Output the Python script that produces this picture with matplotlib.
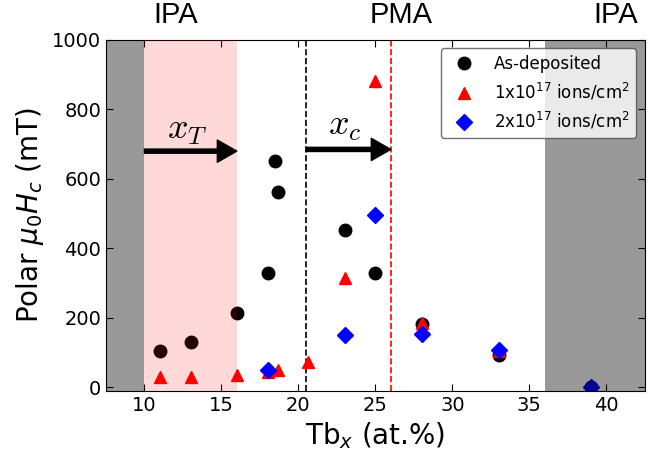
import numpy as np
import matplotlib.pyplot as plt

# As-deposited
x_dep = [11, 13, 16, 18, 18.5, 18.7, 23, 25, 28, 33, 39]
y_dep = [105, 132, 215, 330, 652, 562, 452, 330, 183, 92, 0]

# 1x10^17 ions/cm2
x_1e17 = [11, 13, 16, 18, 18.7, 20.6, 23, 25, 28, 33, 39]
y_1e17 = [30, 30, 36, 45, 50, 72, 316, 882, 186, 105, 0]

# 2x10^17 ions/cm2
x_2e17 = [18, 23, 25, 28, 33, 39]
y_2e17 = [50, 152, 497, 153, 108, 0]

region_labels = ['IPA', 'PMA', 'IPA']
region_label_x = [12.0, 26.7, 40.6]

fig = plt.figure(figsize=(6.62, 4.54), dpi=100)
ax = fig.add_axes([0.160, 0.139, 0.814, 0.773])

ax.plot(x_dep, y_dep, 'o', color='k', markersize=9, label='As-deposited', zorder=2)
ax.plot(x_1e17, y_1e17, '^', color='r', markersize=9,
        label=r'1x10$^{17}$ ions/cm$^2$', zorder=2)
ax.plot(x_2e17, y_2e17, 'D', color='b', markersize=8,
        label=r'2x10$^{17}$ ions/cm$^2$', zorder=2)

# shaded regions, drawn over the markers
ax.axvspan(7.5, 10, color='k', alpha=0.4, lw=0, zorder=3)
ax.axvspan(36, 42.5, color='k', alpha=0.4, lw=0, zorder=3)
ax.axvspan(10, 16, color='r', alpha=0.15, lw=0, zorder=3)

ax.axvline(20.5, color='k', ls='--', lw=1.2, zorder=1)
ax.axvline(26, color='r', ls='--', lw=1.2, zorder=1)

# arrows
ax.annotate('', xy=(16, 680), xytext=(10, 680),
            arrowprops=dict(facecolor='k', edgecolor='k', width=3, headwidth=16, headlength=14),
            zorder=4)
ax.annotate('', xy=(26, 685), xytext=(20.5, 685),
            arrowprops=dict(facecolor='k', edgecolor='k', width=3, headwidth=16, headlength=14),
            zorder=4)
ax.text(12.8, 740, r'$x_T$', fontsize=26, ha='center', va='center', zorder=4,
        math_fontfamily='cm')
ax.text(23.0, 752, r'$x_c$', fontsize=26, ha='center', va='center', zorder=4,
        math_fontfamily='cm')

for lab, xl in zip(region_labels, region_label_x):
    ax.text(xl, 1072, lab, fontsize=21, ha='center', va='center',
            family=['Liberation Sans Narrow', 'Liberation Sans', 'DejaVu Sans'])

ax.set_xlim(7.5, 42.5)
ax.set_ylim(-10, 1000)
ax.set_xticks([10, 15, 20, 25, 30, 35, 40])
ax.set_yticks([0, 200, 400, 600, 800, 1000])
ax.tick_params(direction='in', top=True, right=True, labelsize=14, length=5)
ax.set_xlabel(r'Tb$_x$ (at.%)', fontsize=20)
ax.set_ylabel(r'Polar $\mu_0H_c$ (mT)', fontsize=20)

leg = ax.legend(loc='upper right', fontsize=12, framealpha=0.8, edgecolor='0.3',
                handletextpad=0.8, borderpad=0.4)
leg.set_zorder(5)

plt.savefig('out.png', dpi=100)
plt.close()
